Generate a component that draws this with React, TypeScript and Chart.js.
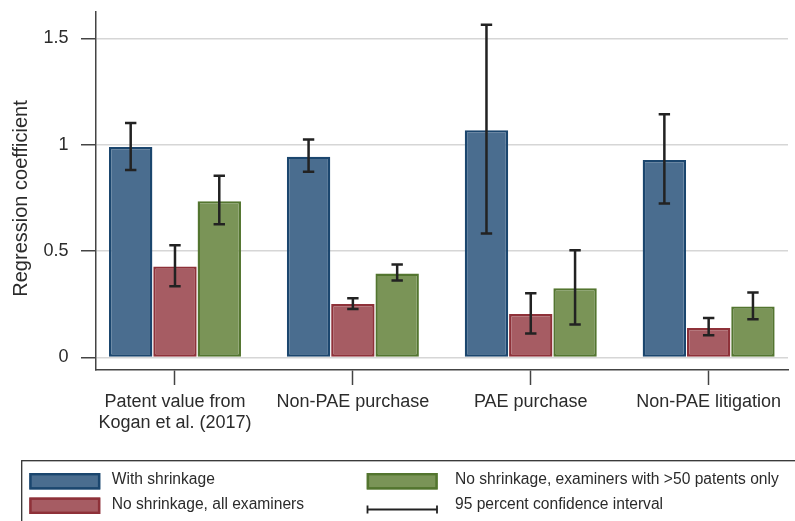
import React, { useEffect, useRef } from "react";
import { Chart, registerables } from "chart.js";

Chart.register(...registerables);

const categories: (string | string[])[] = [
  ["Patent value from", "Kogan et al. (2017)"],
  "Non-PAE purchase",
  "PAE purchase",
  "Non-PAE litigation",
];

const seriesLabels = [
  "With shrinkage",
  "No shrinkage, all examiners",
  "No shrinkage, examiners with >50 patents only",
];
const ciLabel = "95 percent confidence interval";

const withShrinkage = [0.99, 0.944, 1.069, 0.929];
const withShrinkageLo = [0.882, 0.873, 0.583, 0.724];
const withShrinkageHi = [1.103, 1.025, 1.564, 1.144];

const noShrinkAll = [0.428, 0.251, 0.204, 0.139];
const noShrinkAllLo = [0.335, 0.228, 0.113, 0.105];
const noShrinkAllHi = [0.528, 0.279, 0.302, 0.186];

const noShrink50 = [0.735, 0.395, 0.326, 0.24];
const noShrink50Lo = [0.627, 0.362, 0.155, 0.18];
const noShrink50Hi = [0.854, 0.437, 0.504, 0.306];

const yTicks = [0, 0.5, 1, 1.5];
const yTitle = "Regression coefficient";

const fills = ["#4a6d8f", "#a65c63", "#7a9457"];
const borders = ["#1b466e", "#8e3139", "#53752f"];
const ciLo = [withShrinkageLo, noShrinkAllLo, noShrink50Lo];
const ciHi = [withShrinkageHi, noShrinkAllHi, noShrink50Hi];
const values = [withShrinkage, noShrinkAll, noShrink50];

const TEXT = "#2b2b2b";
const AXIS = "#444444";
const FONT = "'Liberation Sans', Arial, Helvetica, sans-serif";

const errorBarPlugin = {
  id: "errorBars",
  afterDatasetsDraw(chart: any) {
    const ctx = chart.ctx;
    const y = chart.scales.y;
    ctx.save();
    ctx.strokeStyle = "#222222";
    ctx.lineWidth = 2.5;
    chart.data.datasets.forEach((ds: any, di: number) => {
      const meta = chart.getDatasetMeta(di);
      meta.data.forEach((el: any, i: number) => {
        const x = el.x;
        const top = y.getPixelForValue(ciHi[di][i]);
        const bot = y.getPixelForValue(ciLo[di][i]);
        const cap = 5.7;
        ctx.beginPath();
        ctx.moveTo(x, top);
        ctx.lineTo(x, bot);
        ctx.moveTo(x - cap, top);
        ctx.lineTo(x + cap, top);
        ctx.moveTo(x - cap, bot);
        ctx.lineTo(x + cap, bot);
        ctx.stroke();
      });
    });
    ctx.restore();
  },
};

const decorPlugin = {
  id: "decor",
  afterDraw(chart: any) {
    const ctx = chart.ctx;
    ctx.save();
    // y axis title
    ctx.fillStyle = TEXT;
    ctx.font = `20px ${FONT}`;
    ctx.translate(27.3, 198.5);
    ctx.rotate(-Math.PI / 2);
    ctx.textAlign = "center";
    ctx.textBaseline = "alphabetic";
    ctx.fillText(yTitle, 0, 0);
    ctx.restore();

    // legend
    ctx.save();
    ctx.strokeStyle = "#333333";
    ctx.lineWidth = 1.3;
    ctx.strokeRect(21.7, 460.7, 800, 100);

    const swW = 71;
    const swH = 16.5;
    const items = [
      { x: 29.3, y: 473.0, tx: 111.7, tb: 484.3, k: 0 },
      { x: 29.3, y: 497.5, tx: 111.7, tb: 509.3, k: 1 },
      { x: 366.7, y: 473.0, tx: 455, tb: 484.3, k: 2 },
    ];
    ctx.font = `15.6px ${FONT}`;
    ctx.textBaseline = "alphabetic";
    ctx.textAlign = "left";
    items.forEach((it) => {
      ctx.fillStyle = fills[it.k];
      ctx.fillRect(it.x, it.y, swW, swH);
      ctx.strokeStyle = borders[it.k];
      ctx.lineWidth = 2.4;
      ctx.strokeRect(it.x + 1.2, it.y + 1.2, swW - 2.4, swH - 2.4);
      ctx.fillStyle = TEXT;
      ctx.fillText(seriesLabels[it.k], it.tx, it.tb);
    });
    // CI symbol
    ctx.strokeStyle = "#222222";
    ctx.lineWidth = 1.8;
    ctx.beginPath();
    ctx.moveTo(366.7, 509.5);
    ctx.lineTo(437.7, 509.5);
    ctx.moveTo(367.5, 505.5);
    ctx.lineTo(367.5, 513.5);
    ctx.moveTo(437, 505.5);
    ctx.lineTo(437, 513.5);
    ctx.stroke();
    ctx.fillStyle = TEXT;
    ctx.fillText(ciLabel, 455, 509.3);
    ctx.restore();
  },
};

export default function App() {
  const ref = useRef<HTMLCanvasElement | null>(null);

  useEffect(() => {
    if (!ref.current) return;
    const datasets = values.map((vals, k) => ({
      label: seriesLabels[k],
      data: vals.map((v, i) => ({ x: i, y: v })),
      backgroundColor: fills[k],
      borderColor: borders[k],
      borderWidth: 2.4,
      borderSkipped: false as const,
      categoryPercentage: 0.747,
      barPercentage: 0.98,
    }));

    const chart = new Chart(ref.current, {
      type: "bar",
      data: { datasets },
      options: {
        animation: false,
        responsive: false,
        maintainAspectRatio: false,
        layout: { padding: { top: 12, right: 7, left: 0, bottom: 0 } },
        plugins: {
          legend: { display: false },
          tooltip: { enabled: false },
        },
        scales: {
          x: {
            type: "linear",
            min: -0.444,
            max: 3.446,
            offset: false,
            afterBuildTicks: (scale: any) => {
              scale.ticks = categories.map((_, i) => ({ value: i }));
            },
            afterFit: (scale: any) => {
              scale.height = 151;
              scale.paddingLeft = 0;
              scale.paddingRight = 0;
            },
            ticks: {
              autoSkip: false,
              maxRotation: 0,
              minRotation: 0,
              padding: 6,
              color: TEXT,
              font: { family: FONT, size: 18, lineHeight: 1.2 },
              callback: (value: any) => categories[Number(value)] as any,
            },
            grid: {
              offset: false,
              drawOnChartArea: false,
              drawTicks: true,
              tickLength: 15,
              tickColor: AXIS,
              tickWidth: 1.5,
            },
            border: { display: true, color: AXIS, width: 1.5 },
          },
          y: {
            type: "linear",
            min: -0.0588,
            max: 1.6244,
            afterBuildTicks: (scale: any) => {
              scale.ticks = yTicks.map((v) => ({ value: v }));
            },
            afterFit: (scale: any) => {
              scale.width = 96;
              scale.paddingTop = 0;
              scale.paddingBottom = 0;
            },
            ticks: {
              padding: 12.5,
              color: TEXT,
              font: { family: FONT, size: 18 },
              callback: (value: any) => String(value),
            },
            grid: {
              color: "#d6d6d6",
              lineWidth: 1.5,
              drawTicks: true,
              tickLength: 15,
              tickColor: AXIS,
              tickWidth: 1.5,
            },
            border: { display: true, color: AXIS, width: 1.5 },
          },
        },
      },
      plugins: [errorBarPlugin, decorPlugin],
    });
    return () => chart.destroy();
  }, []);

  return (
    <div style={{ position: "fixed", left: 0, top: 0, width: 795, height: 521, background: "#fff" }}>
      <canvas ref={ref} width={795} height={521} style={{ width: 795, height: 521, display: "block" }} />
    </div>
  );
}
